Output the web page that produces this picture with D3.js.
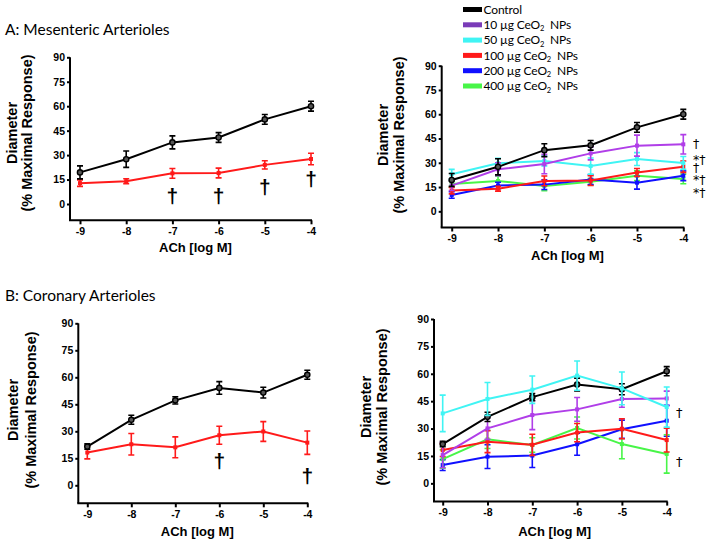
<!DOCTYPE html>
<html><head><meta charset="utf-8">
<script src="https://cdn.jsdelivr.net/npm/d3@7"></script>
<style>body{margin:0;background:#fff}svg{display:block}</style>
</head><body>
<svg id="c" width="714" height="546"></svg>
<script>
const xTicks = [-9, -8, -7, -6, -5, -4];
const yTicks = [0, 15, 30, 45, 60, 75, 90];
const doses = [-9, -8, -7, -6, -5, -4];

const legendLabels = ["Control", "10 µg CeO", "50 µg CeO", "100 µg CeO", "200 µg CeO", "400 µg CeO"];

// Mesenteric
const mesControl = [19.4, 27.5, 37.8, 40.8, 51.9, 60.0];
const mesControlErr = [4, 5, 4, 3, 3, 3];
const mes10 = [15.9, 26, 29.2, 35.8, 40.6, 41.4];
const mes10Err = [3, 4, 6, 4, 6.5, 6];
const mes50 = [22.9, 29.7, 31.1, 28, 32.3, 29.9];
const mes50Err = [3, 3, 3, 5, 4, 4];
const mes100 = [12.8, 14, 18.8, 19, 24, 27.6];
const mes100Err = [2, 1.5, 3, 3, 2.5, 3.5];
const mes200 = [10.1, 16, 16.5, 19.6, 17.7, 22];
const mes200Err = [2, 2, 3, 3, 4, 3];
const mes400 = [16.9, 18.7, 15.7, 18.3, 22, 20];
const mes400Err = [2, 3, 3, 2, 3, 3];

// Coronary
const corControl = [21.5, 36.4, 47.2, 54.1, 51.5, 61.4];
const corControlErr = [1.5, 2.5, 2, 3.5, 3, 2.5];
const cor10 = [15.5, 30.1, 37.4, 40.5, 46.2, 46.5];
const cor10Err = [7, 6, 8, 6.5, 4.5, 4];
const cor50 = [38.3, 46.2, 51.3, 59, 52, 41.8];
const cor50Err = [10, 9, 7.5, 8, 9, 11];
const cor100 = [18.2, 22.8, 21.1, 27.8, 29.9, 23.7];
const cor100Err = [3.5, 6, 5.8, 5, 5.5, 6.5];
const cor200 = [10, 14.6, 15.2, 21.4, 29.6, 34.3];
const cor200Err = [3, 6.5, 6.5, 6, 5, 8.5];
const cor400 = [13.3, 24.1, 21, 30.3, 21.5, 16.1];
const cor400Err = [5, 5, 4, 6, 8, 10.5];

// significance marks
const sigMesLeft = [[-7, 5.5, "†"], [-6, 5.5, "†"], [-5, 10.5, "†"], [-4, 15.5, "†"]];
const sigMesRight = [[42.1, "†"], [32.3, "*†"], [27.3, "†"], [19.9, "*†"], [11.9, "*†"]];
const sigCorLeft = [[-6, 14, "†"], [-4, 5.7, "†"]];
const sigCorRight = [[38.9, "†"], [12.2, "†"]];

const colors = {
  control: "#000000", d10: "#b03ee8", d50: "#40f4f4", d100: "#ff1a1a", d200: "#1010ff", d400: "#48f548"
};
const legendColors = ["#000000", "#7a3bb8", "#40f4f4", "#ff1a1a", "#1010ff", "#48f548"];

const svg = d3.select("#c");
const AX = "'Liberation Sans', Arial, sans-serif";
const TF = "Lato, sans-serif";

svg.append("text").attr("x", 5).attr("y", 35).attr("font-family", TF).attr("font-size", 15.5)
  .text("A: Mesenteric Arterioles");
svg.append("text").attr("x", 5).attr("y", 301).attr("font-family", TF).attr("font-size", 15.5)
  .text("B: Coronary Arterioles");

function panel(cfg) {
  const x = d3.scaleLinear().domain([-9, -4]).range([cfg.x0, cfg.x1]);
  const y = d3.scaleLinear().domain([-10, 90]).range([cfg.yb, cfg.yt]);
  const g = svg.append("g");
  const ya = g.append("g").attr("transform", `translate(${cfg.ax},0)`)
    .call(d3.axisLeft(y).tickValues(yTicks).tickFormat(d => String(d)).tickSize(3).tickPadding(2));
  ya.select(".domain").attr("d", `M0,${y(90)}V${y(-10)}`).attr("stroke-width", 2);
  ya.selectAll(".tick line").attr("stroke-width", 2);
  ya.selectAll("text").attr("font-family", AX).attr("font-weight", "bold").attr("font-size", 10.5).attr("fill", "#000");
  const xa = g.append("g").attr("transform", `translate(0,${y(-10)})`)
    .call(d3.axisBottom(x).tickValues(xTicks).tickFormat(d => String(d)).tickSize(4).tickPadding(3));
  xa.select(".domain").attr("d", `M${cfg.ax - 1},0H${x(-4) + 1}`).attr("stroke-width", 2);
  xa.selectAll(".tick line").attr("stroke-width", 2);
  xa.selectAll("text").attr("font-family", AX).attr("font-weight", "bold").attr("font-size", 10.5).attr("fill", "#000");
  g.append("text").attr("x", (x(-9) + x(-4)) / 2).attr("y", cfg.xt).attr("text-anchor", "middle")
    .attr("font-family", AX).attr("font-weight", "bold").attr("font-size", 13).text("ACh [log M]");
  g.append("text").attr("transform", `translate(${cfg.yl1},${cfg.yc}) rotate(-90)`).attr("text-anchor", "middle")
    .attr("font-family", AX).attr("font-weight", "bold").attr("font-size", 14.5).text("Diameter");
  g.append("text").attr("transform", `translate(${cfg.yl2},${cfg.yc}) rotate(-90)`).attr("text-anchor", "middle")
    .attr("font-family", AX).attr("font-weight", "bold").attr("font-size", 14.5).text("(% Maximal Response)");

  const line = d3.line().x((d, i) => x(doses[i])).y(d => y(d));
  cfg.series.forEach(s => {
    const sg = g.append("g");
    sg.append("path").attr("d", line(s.v)).attr("fill", "none").attr("stroke", s.c).attr("stroke-width", 2);
    s.v.forEach((v, i) => {
      const cx = x(doses[i]), e = s.e[i];
      sg.append("path").attr("d", `M${cx},${y(v + e)}V${y(v - e)}M${cx - 3},${y(v + e)}H${cx + 3}M${cx - 3},${y(v - e)}H${cx + 3}`)
        .attr("stroke", s.c).attr("stroke-width", 1.6).attr("fill", "none");
      if (s.c === "#000000") {
        sg.append("circle").attr("cx", cx).attr("cy", y(v)).attr("r", 2.6).attr("fill", "#555").attr("stroke", "#000").attr("stroke-width", 1.4);
      } else {
        sg.append("rect").attr("x", cx - 2).attr("y", y(v) - 2).attr("width", 4).attr("height", 4).attr("fill", s.c);
      }
    });
  });
  return { x, y, g };
}

const A1 = panel({ x0: 80, x1: 311, ax: 70, yb: 220.3, yt: 57.3, xt: 252, yl1: 17, yl2: 32, yc: 133,
  series: [
    { v: mes100, e: mes100Err, c: colors.d100 },
    { v: mesControl, e: mesControlErr, c: colors.control }
  ] });
sigMesLeft.forEach(d => A1.g.append("text").attr("x", A1.x(d[0])).attr("y", A1.y(d[1])).attr("text-anchor", "middle")
  .attr("dominant-baseline", "central").attr("font-family", AX).attr("font-weight", "bold").attr("font-size", 21).text(d[2]));

const A2 = panel({ x0: 451.7, x1: 683.3, ax: 441.7, yb: 227.5, yt: 65.7, xt: 260, yl1: 388, yl2: 404, yc: 135,
  series: [
    { v: mes400, e: mes400Err, c: colors.d400 },
    { v: mes200, e: mes200Err, c: colors.d200 },
    { v: mes100, e: mes100Err, c: colors.d100 },
    { v: mes50, e: mes50Err, c: colors.d50 },
    { v: mes10, e: mes10Err, c: colors.d10 },
    { v: mesControl, e: mesControlErr, c: colors.control }
  ] });
sigMesRight.forEach(d => A2.g.append("text").attr("x", 693).attr("y", A2.y(d[0])).attr("dominant-baseline", "central")
  .attr("font-family", "'DejaVu Sans', sans-serif").attr("font-size", 12.5).text(d[1]));

const B1 = panel({ x0: 87.3, x1: 307.3, ax: 78.3, yb: 503.3, yt: 323.3, xt: 536, yl1: 18, yl2: 36, yc: 410,
  series: [
    { v: cor100, e: cor100Err, c: colors.d100 },
    { v: corControl, e: corControlErr, c: colors.control }
  ] });
sigCorLeft.forEach(d => B1.g.append("text").attr("x", B1.x(d[0])).attr("y", B1.y(d[1])).attr("text-anchor", "middle")
  .attr("dominant-baseline", "central").attr("font-family", AX).attr("font-weight", "bold").attr("font-size", 21).text(d[2]));

const B2 = panel({ x0: 442.7, x1: 666.7, ax: 434, yb: 501.6, yt: 319, xt: 536, yl1: 371, yl2: 387, yc: 407,
  series: [
    { v: cor200, e: cor200Err, c: colors.d200 },
    { v: cor400, e: cor400Err, c: colors.d400 },
    { v: cor100, e: cor100Err, c: colors.d100 },
    { v: cor10, e: cor10Err, c: colors.d10 },
    { v: corControl, e: corControlErr, c: colors.control },
    { v: cor50, e: cor50Err, c: colors.d50 }
  ] });
sigCorRight.forEach(d => B2.g.append("text").attr("x", 676).attr("y", B2.y(d[0])).attr("dominant-baseline", "central")
  .attr("font-family", "'DejaVu Sans', sans-serif").attr("font-size", 13).text(d[1]));

// legend
const lg = svg.append("g");
legendLabels.forEach((t, i) => {
  const yy = 9.5 + i * 15.3;
  lg.append("rect").attr("x", 463).attr("y", yy - 2.5).attr("width", 19).attr("height", 5).attr("fill", legendColors[i]);
  const tx = lg.append("text").attr("x", 483.5).attr("y", yy + 4.3).attr("font-family", TF).attr("font-size", 12)
    .attr("letter-spacing", -0.15).text(t);
  if (i > 0) {
    tx.append("tspan").attr("font-size", 7.5).attr("dy", 2.2).text("2");
    tx.append("tspan").attr("dy", -2.2).text("\u00a0 NPs");
  }
});
</script>
</body></html>
